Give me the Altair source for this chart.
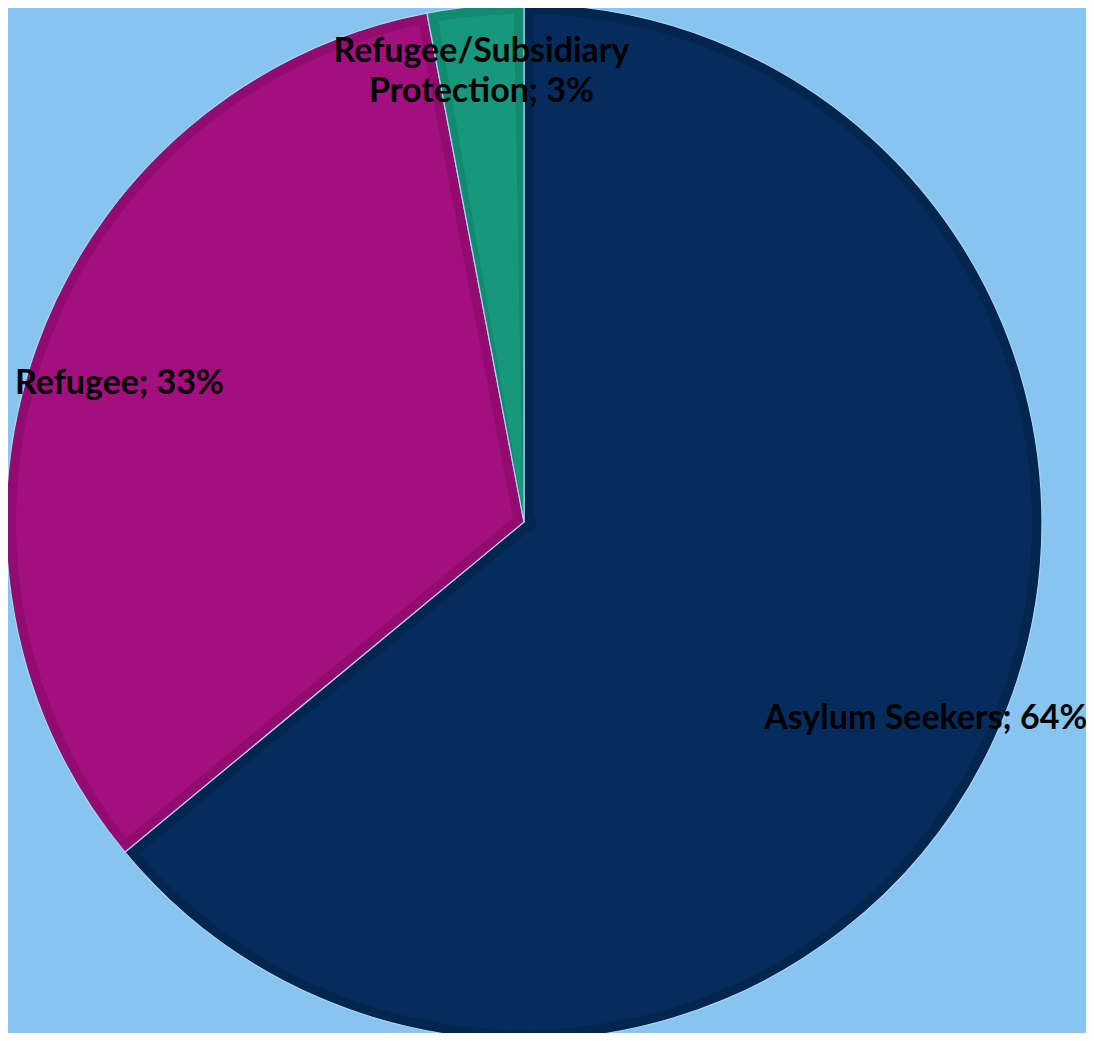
import altair as alt
import pandas as pd

categories = ["Asylum Seekers", "Refugee", "Refugee/Subsidiary Protection"]
values = [64, 33, 3]
labels = ["Asylum Seekers; 64%", "Refugee; 33%", "Refugee/Subsidiary\nProtection; 3%"]
fill_colors = ["#052C5C", "#A30F7E", "#17977C"]
edge_colors = ["#03264F", "#920C70", "#128A70"]

df = pd.DataFrame({
    "category": categories,
    "value": values,
    "label": labels,
    "order": list(range(len(categories))),
})

R = 518
BAND = 10

base = alt.Chart(df).encode(
    theta=alt.Theta("value:Q", stack=True),
    order=alt.Order("order:Q"),
)

dark = base.mark_arc(outerRadius=R, stroke="#A9D4F3", strokeWidth=1.2).encode(
    color=alt.Color("category:N", scale=alt.Scale(domain=categories, range=edge_colors), legend=None)
)

light = base.mark_arc(outerRadius=R - BAND, innerRadius=12, padAngle=2 * BAND / (R - BAND)).encode(
    fill=alt.Fill("category:N", scale=alt.Scale(domain=categories, range=fill_colors), legend=None)
)

text_style = dict(font="Lato", fontSize=34, fontWeight="bold", color="black",
                  lineBreak="\n", lineHeight=40, align="center", baseline="middle")


def label_layer(cat, radius, dy):
    return base.mark_text(radius=radius, dy=dy, **text_style).encode(
        text=alt.Text("label:N"),
        opacity=alt.condition(alt.datum.category == cat, alt.value(1), alt.value(0)),
    )


text_asylum = label_layer(categories[0], 444, 8)
text_refugee = label_layer(categories[1], 430, 8)
text_subsid = label_layer(categories[2], 452, -20)

chart = alt.layer(dark, light, text_asylum, text_refugee, text_subsid).properties(
    width=1032,
    height=1022,
    padding={"left": 0, "top": 3, "right": 46, "bottom": 0},
    autosize="none",
    background="#88C4F0",
).configure_view(stroke=None)

chart.save("out.html", embed_options={"renderer": "svg", "actions": False})
